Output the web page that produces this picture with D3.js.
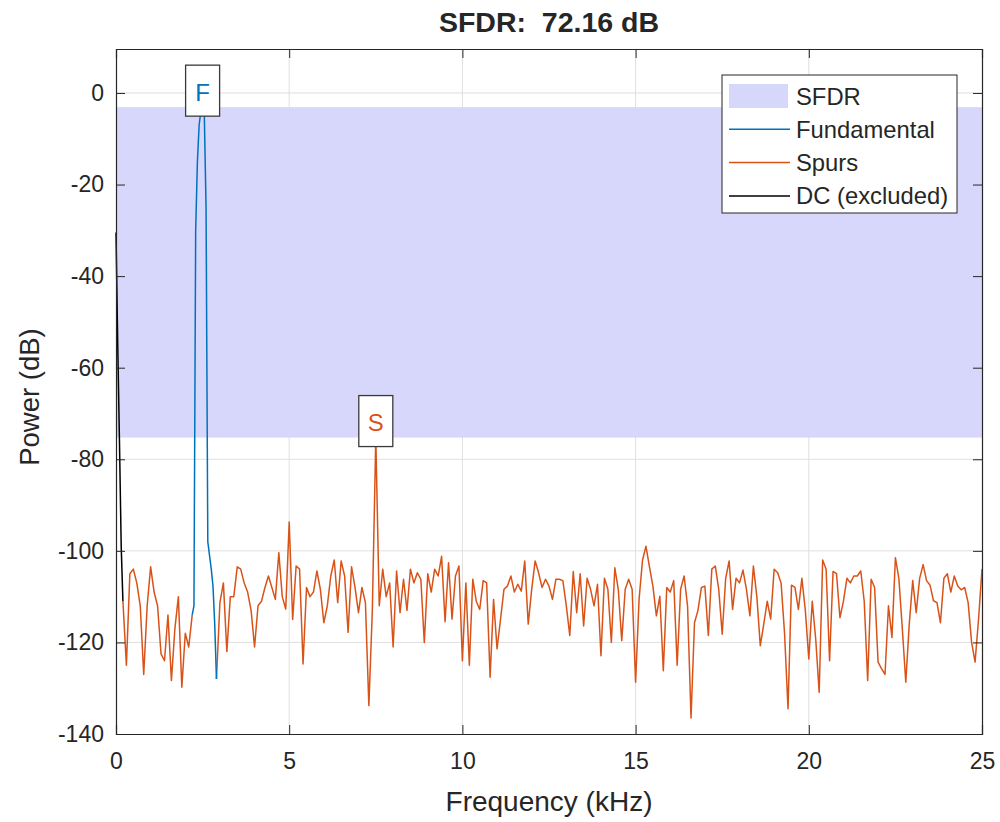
<!DOCTYPE html>
<html>
<head>
<meta charset="utf-8">
<script src="https://cdn.jsdelivr.net/npm/d3@7"></script>
<style>
  body { margin: 0; background: #fff; }
  text { font-family: "Liberation Sans", Arial, Helvetica, sans-serif; fill: #262626; }
</style>
</head>
<body>
<div id="chart"></div>
<script>
// SFDR plot: fundamental, spurs and DC of a power spectrum (kHz / dB)

const binWidth = 0.1; // kHz between spectrum bins

// DC component (excluded from SFDR)
const dcFreq = [0, 0.05, 0.1, 0.15, 0.2];
const dcPower = [-30.5, -55, -76, -99, -111];

// Fundamental main lobe
const fundFreq = [2.2, 2.25, 2.3, 2.35, 2.4, 2.45, 2.5, 2.55, 2.6, 2.65, 2.7, 2.75, 2.8, 2.85, 2.9];
const fundPower = [-114, -112, -30, -15, -7, -4, -3.1, -5, -25, -98, -101, -104, -107.7, -116, -128];

// Spurs below the fundamental, bins from 0.2 kHz
const spurLowStart = 0.2;
const spurLowPower = [
  -111, -125, -105, -104, -107, -112, -127, -112, -103.5, -109,
  -112, -122.5, -124, -114, -128.3, -117, -110, -129.8, -118, -121,
  -114
];

// Spurs above the fundamental, bins from 2.9 kHz to 25 kHz
const spurHighStart = 2.9;
const spurHighPower = [
  -128,
  -111.3, -107, -122, -110, -110, -103.5, -104, -107, -109, -113,
  -121, -112, -111, -108, -105.5, -108, -110.6, -100.4, -110, -112.7,
  -93.7, -115, -103.3, -104, -124.7, -108, -110, -109, -104.4, -108.4,
  -115.7, -112, -105.5, -102, -111.3, -102.2, -105.5, -117.8, -103.5, -108,
  -113.5, -108, -111.3, -133.8, -113, -75.26, -112, -104, -110, -107,
  -121, -104.4, -113.5, -106.2, -113, -104, -107, -104.8, -106.2, -120,
  -105, -109, -104, -105.5, -101.2, -115.5, -102.6, -114.9, -105.5, -103.3,
  -124, -107, -125, -106.2, -111, -112.8, -106.5, -107, -127.6, -110.6,
  -121.4, -115, -108.4, -107.7, -105.5, -109, -107.3, -108.8, -102.2, -116,
  -108.4, -102.2, -104.8, -108, -106.2, -107.7, -110.6, -106.2, -106.2, -106.5,
  -112, -118.5, -104.5, -113.5, -105, -116.4, -106, -108.4, -112, -107.3,
  -122.9, -106, -108.4, -120, -103.7, -108.4, -119.6, -108.4, -106.2, -108.4,
  -128.7, -110.6, -102, -99, -103.5, -107.7, -114.2, -109.9, -126.2, -108,
  -109, -106.5, -125, -108.4, -105.5, -112, -136.5, -115.7, -113, -108,
  -107.7, -118.5, -104, -103.3, -108.4, -118.2, -106, -102.2, -112.8, -106,
  -107, -104.2, -108.4, -114.2, -103.3, -110, -120.7, -116, -111, -114.9,
  -104, -104.8, -107, -118, -134.5, -107.5, -108, -112.8, -106, -113,
  -123.6, -111, -119.3, -130.9, -102, -104, -124, -104.5, -105, -114.6,
  -111, -106, -107, -105.5, -105.5, -104.4, -111, -128.3, -106.2, -108,
  -124.3, -125.7, -127, -112, -118.9, -101.5, -106, -117, -128.7, -116,
  -106.5, -113.5, -106, -103, -106.5, -107.5, -110.9, -111.3, -115.7, -106,
  -105, -109, -105.5, -107.7, -108.5, -108, -111.3, -120, -124.3, -115,
  -104
];

const xTicks = [0, 5, 10, 15, 20, 25];
const yTicks = [-140, -120, -100, -80, -60, -40, -20, 0];
const legendLabels = ["SFDR", "Fundamental", "Spurs", "DC (excluded)"];

(function() {
    const W = 1000, H = 822;
    const margin = {top: 49, right: 18, bottom: 88, left: 116},
        width = W - margin.left - margin.right,
        height = H - margin.top - margin.bottom;

    const colFund = "#0072BD", colSpur = "#D95319", colDC = "#000000";
    const colBand = "#d7d7fb", colAxis = "#262626", colGrid = "#dfdfdf";

    const svg = d3.select("#chart")
        .append("svg")
        .attr("width", W)
        .attr("height", H);

    const g = svg.append("g")
        .attr("transform", `translate(${margin.left},${margin.top})`);

    const x = d3.scaleLinear().domain([0, 25]).range([0, width]);
    const y = d3.scaleLinear().domain([-140, 9.6]).range([height, 0]);

    // series as point lists
    const dcData = dcFreq.map((f, i) => ({f, p: dcPower[i]}));
    const fundData = fundFreq.map((f, i) => ({f, p: fundPower[i]}));
    const spurLow = spurLowPower.map((p, i) => ({f: spurLowStart + i * binWidth, p}));
    const spurHigh = spurHighPower.map((p, i) => ({f: spurHighStart + i * binWidth, p}));

    const fundPeak = d3.max(fundPower);
    const spurPeak = d3.max(spurLowPower.concat(spurHighPower));
    const fundPeakF = fundFreq[fundPower.indexOf(fundPeak)];
    const spurPeakD = spurLow.concat(spurHigh).find(d => d.p === spurPeak);

    // grid
    g.append("g").selectAll("line")
        .data(xTicks.slice(1, -1))
        .join("line")
        .attr("x1", d => x(d)).attr("x2", d => x(d))
        .attr("y1", 0).attr("y2", height)
        .attr("stroke", colGrid);
    g.append("g").selectAll("line")
        .data(yTicks.slice(1))
        .join("line")
        .attr("x1", 0).attr("x2", width)
        .attr("y1", d => y(d)).attr("y2", d => y(d))
        .attr("stroke", colGrid);

    // SFDR band
    g.append("rect")
        .attr("x", x(0))
        .attr("width", x(25) - x(0))
        .attr("y", y(fundPeak))
        .attr("height", y(spurPeak) - y(fundPeak))
        .attr("fill", colBand);

    const line = d3.line().x(d => x(d.f)).y(d => y(d.p));

    [[spurLow, colSpur], [spurHigh, colSpur], [fundData, colFund], [dcData, colDC]].forEach(([data, c]) => {
        g.append("path")
            .datum(data)
            .attr("d", line)
            .attr("fill", "none")
            .attr("stroke", c)
            .attr("stroke-width", 1.5)
            .attr("stroke-linejoin", "round");
    });

    // axes (ticks point inward, box on)
    const tick = 9;
    const fmt = d => String(d);
    g.append("g")
        .attr("transform", `translate(0,${height})`)
        .call(d3.axisBottom(x).tickValues(xTicks).tickSize(-tick).tickPadding(19).tickFormat(fmt));
    g.append("g")
        .call(d3.axisLeft(y).tickValues(yTicks).tickSize(-tick).tickPadding(12).tickFormat(fmt));
    g.append("g")
        .call(d3.axisTop(x).tickValues(xTicks).tickSize(-tick).tickFormat(""));
    g.append("g")
        .attr("transform", `translate(${width},0)`)
        .call(d3.axisRight(y).tickValues(yTicks).tickSize(-tick).tickFormat(""));

    g.selectAll(".domain").attr("stroke", colAxis).attr("stroke-width", 1.2);
    g.selectAll(".tick line").attr("stroke", colAxis);
    g.selectAll(".tick text")
        .attr("fill", colAxis)
        .style("font-family", "'Liberation Sans', Arial, sans-serif")
        .style("font-size", "23px");

    // peak labels
    function peakLabel(fx, py, txt, c) {
        const cx = x(fx), cy = y(py);
        const bw = 34, bh = 51;
        g.append("rect")
            .attr("x", cx - bw / 2)
            .attr("y", cy + 9 - bh)
            .attr("width", bw)
            .attr("height", bh)
            .attr("fill", "#fff")
            .attr("stroke", "#3a3a3a")
            .attr("stroke-width", 1.3);
        g.append("text")
            .attr("x", cx)
            .attr("y", cy - 15)
            .attr("text-anchor", "middle")
            .attr("dominant-baseline", "central")
            .style("fill", c)
            .style("font-size", "24px")
            .text(txt);
    }
    peakLabel(fundPeakF, fundPeak, "F", colFund);
    peakLabel(spurPeakD.f, spurPeakD.p, "S", colSpur);

    // legend
    const lg = svg.append("g").attr("transform", "translate(722,75)");
    lg.append("rect")
        .attr("width", 235).attr("height", 138)
        .attr("fill", "#fff")
        .attr("stroke", colAxis).attr("stroke-width", 1);
    const legColors = [colBand, colFund, colSpur, colDC];
    legendLabels.forEach((lab, i) => {
        const cy = 21 + i * 33.3;
        if (i === 0) {
            lg.append("rect")
                .attr("x", 7).attr("y", cy - 12)
                .attr("width", 59).attr("height", 24)
                .attr("fill", legColors[i]);
        } else {
            lg.append("line")
                .attr("x1", 7).attr("x2", 68)
                .attr("y1", cy).attr("y2", cy)
                .attr("stroke", legColors[i]).attr("stroke-width", 1.5);
        }
        lg.append("text")
            .attr("x", 74).attr("y", cy)
            .attr("dominant-baseline", "central")
            .style("font-size", "23.8px")
            .text(lab);
    });

    // title and axis labels
    svg.append("text")
        .attr("x", margin.left + width / 2)
        .attr("y", 22)
        .attr("text-anchor", "middle")
        .attr("dominant-baseline", "central")
        .style("font-size", "28.5px")
        .style("font-weight", "bold")
        .style("white-space", "pre")
        .text(`SFDR:  ${d3.format(".2f")(fundPeak - spurPeak)} dB`);

    svg.append("text")
        .attr("x", margin.left + width / 2)
        .attr("y", 801)
        .attr("text-anchor", "middle")
        .attr("dominant-baseline", "central")
        .style("font-size", "28px")
        .text("Frequency (kHz)");

    svg.append("text")
        .attr("transform", "translate(29,397) rotate(-90)")
        .attr("text-anchor", "middle")
        .attr("dominant-baseline", "central")
        .style("font-size", "27.5px")
        .text("Power (dB)");
})();
</script>
</body>
</html>
